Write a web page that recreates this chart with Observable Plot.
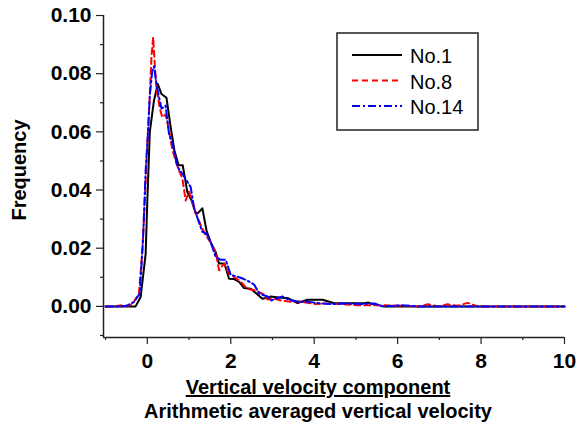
<!DOCTYPE html>
<html><head><meta charset="utf-8">
<script src="https://cdn.jsdelivr.net/npm/d3@7"></script>
<script src="https://cdn.jsdelivr.net/npm/@observablehq/plot@0.6"></script>
<style>body{margin:0;background:#fff} #chart svg{display:block}</style>
</head><body><div id="chart"></div>
<script>
const seriesNames = ["No.1", "No.8", "No.14"];
const no1 = [[-1,0],[-0.5,0],[-0.28,0],[-0.16,0.0032],[-0.04,0.018],[0,0.036],[0.06,0.060],[0.16,0.0708],[0.25,0.0765],[0.34,0.073],[0.46,0.0717],[0.56,0.0616],[0.65,0.0536],[0.75,0.0485],[0.85,0.0485],[0.96,0.0393],[1.06,0.0364],[1.16,0.032],[1.21,0.032],[1.32,0.0337],[1.42,0.026],[1.52,0.022],[1.64,0.0185],[1.72,0.0147],[1.85,0.0147],[1.96,0.0095],[2.08,0.0094],[2.2,0.0084],[2.32,0.0063],[2.48,0.0061],[2.6,0.0046],[2.76,0.0026],[2.88,0.003],[2.96,0.0034],[3.2,0.003],[3.36,0.0029],[3.6,0.0011],[3.84,0.0023],[4.2,0.0023],[4.48,0.0011],[5.2,0.0011],[5.3,0.0013],[5.43,0.0007],[5.67,0],[6.5,0],[8,0],[10,0]];
const no8 = [[-1,0],[-0.8,0],[-0.6,0.0004],[-0.5,0],[-0.36,0.0007],[-0.2,0.0044],[-0.12,0.019],[-0.06,0.036],[0,0.056],[0.05,0.0697],[0.1,0.0857],[0.14,0.0925],[0.18,0.083],[0.22,0.075],[0.3,0.068],[0.36,0.065],[0.44,0.066],[0.52,0.0605],[0.6,0.054],[0.68,0.050],[0.76,0.0467],[0.84,0.044],[0.92,0.0364],[1.0,0.0395],[1.08,0.036],[1.16,0.032],[1.28,0.028],[1.4,0.0244],[1.52,0.022],[1.64,0.0187],[1.72,0.0124],[1.84,0.0147],[1.96,0.0113],[2.08,0.0101],[2.24,0.0085],[2.4,0.006],[2.6,0.0055],[2.8,0.004],[2.88,0.0024],[3.04,0.0027],[3.2,0.002],[3.44,0.0016],[3.68,0.0017],[4.0,0.0008],[4.32,0.001],[4.64,0.0008],[5.04,0.0004],[5.6,0.0004],[6.1,0.0002],[6.5,0],[6.72,0.0007],[7.0,0],[7.2,0.0007],[7.44,0.0002],[7.68,0.0012],[7.92,0],[8.5,0],[10,0]];
const no14 = [[-1,0],[-0.7,0],[-0.5,0.0002],[-0.32,0.0015],[-0.18,0.0044],[-0.1,0.0238],[-0.04,0.0467],[0.02,0.0605],[0.06,0.0725],[0.12,0.081],[0.16,0.0825],[0.22,0.0765],[0.28,0.072],[0.34,0.068],[0.44,0.069],[0.52,0.0593],[0.62,0.055],[0.72,0.048],[0.84,0.0456],[0.94,0.0433],[1.04,0.041],[1.12,0.034],[1.22,0.0296],[1.32,0.0256],[1.42,0.025],[1.52,0.022],[1.64,0.017],[1.76,0.016],[1.88,0.016],[2.0,0.0108],[2.16,0.0102],[2.28,0.0096],[2.4,0.0088],[2.56,0.0075],[2.68,0.0044],[2.88,0.0034],[2.96,0.002],[3.24,0.0034],[3.36,0.0025],[3.6,0.0016],[3.84,0.0016],[4.16,0.001],[4.48,0.0008],[4.8,0.001],[5.12,0.0008],[5.44,0.001],[5.64,0],[6.1,0.0004],[6.48,0],[10,0]];
const seriesColors = ["#000000", "#ff0000", "#0000ff"];
const seriesDash = [null, "6,4", "8,3,2,3"];
const xMajor = [0, 2, 4, 6, 8, 10];
const xMinor = [-1, 1, 3, 5, 7, 9];
const yMajor = [0, 0.02, 0.04, 0.06, 0.08, 0.10];
const yMinor = [-0.01, 0.01, 0.03, 0.05, 0.07, 0.09];
const xDomain = [-1.05, 10];
const yDomain = [-0.0107, 0.10];
const yLabel = "Frequency";
const xLabel1 = "Vertical velocity component";
const xLabel2 = "Arithmetic averaged vertical velocity";

const allSeries = [no1, no8, no14];
const lineMarks = allSeries.map((arr, i) => Plot.line(arr, {
  x: d => d[0], y: d => d[1],
  stroke: seriesColors[i], strokeWidth: 2,
  strokeDasharray: seriesDash[i] || undefined
}));

const W = 578, H = 428;
const plot = Plot.plot({
  width: W, height: H,
  marginLeft: 103, marginRight: 14, marginTop: 15, marginBottom: 91,
  style: {fontFamily: "'Liberation Sans', Arial, sans-serif", color: "#222", background: "#fff"},
  x: {domain: xDomain},
  y: {domain: yDomain},
  marks: [
    Plot.axisX({ticks: xMinor, tickSize: 3, text: null, label: null, strokeWidth: 1.2}),
    Plot.axisX({ticks: xMajor, tickSize: 7, tickPadding: 9, label: null, fontSize: 21, fontWeight: "bold", fill: "#000", strokeWidth: 1.2}),
    Plot.axisY({ticks: yMinor, tickSize: 3, text: null, label: null, strokeWidth: 1.2}),
    Plot.axisY({ticks: yMajor, tickSize: 7, tickPadding: 5, label: null, tickFormat: d3.format(".2f"), fontSize: 21, fontWeight: "bold", fill: "#000", strokeWidth: 1.2}),
    Plot.ruleX([xDomain[0]], {stroke: "#222", strokeWidth: 1.5}),
    Plot.ruleY([yDomain[0]], {stroke: "#222", strokeWidth: 1.5}),
    ...lineMarks
  ]
});

const svg = d3.select(plot);
const font = "'Liberation Sans', Arial, sans-serif";
svg.append("text").text(yLabel)
  .attr("transform", "translate(26,170) rotate(-90)")
  .attr("text-anchor", "middle").attr("font-family", font)
  .attr("font-size", 20).attr("font-weight", "bold").attr("fill", "#000");
svg.append("text").text(xLabel1)
  .attr("x", 318).attr("y", 394).attr("text-anchor", "middle")
  .attr("font-family", font).attr("font-size", 20).attr("font-weight", "bold")
  .attr("text-decoration", "underline").attr("fill", "#000");
svg.append("text").text(xLabel2)
  .attr("x", 318).attr("y", 418).attr("text-anchor", "middle")
  .attr("font-family", font).attr("font-size", 20).attr("font-weight", "bold").attr("fill", "#000");

const lg = svg.append("g");
lg.append("rect").attr("x", 337).attr("y", 33).attr("width", 141).attr("height", 97)
  .attr("fill", "#fff").attr("stroke", "#222").attr("stroke-width", 1.5);
seriesNames.forEach((name, i) => {
  const yy = 55 + i * 25.5;
  lg.append("line").attr("x1", 352).attr("x2", 402).attr("y1", yy).attr("y2", yy)
    .attr("stroke", seriesColors[i]).attr("stroke-width", 2)
    .attr("stroke-dasharray", seriesDash[i]);
  lg.append("text").text(name).attr("x", 410).attr("y", yy + 8)
    .attr("text-anchor", "start")
    .attr("font-family", font).attr("font-size", 20).attr("fill", "#000");
});

document.getElementById("chart").appendChild(plot);
</script>
</body></html>
